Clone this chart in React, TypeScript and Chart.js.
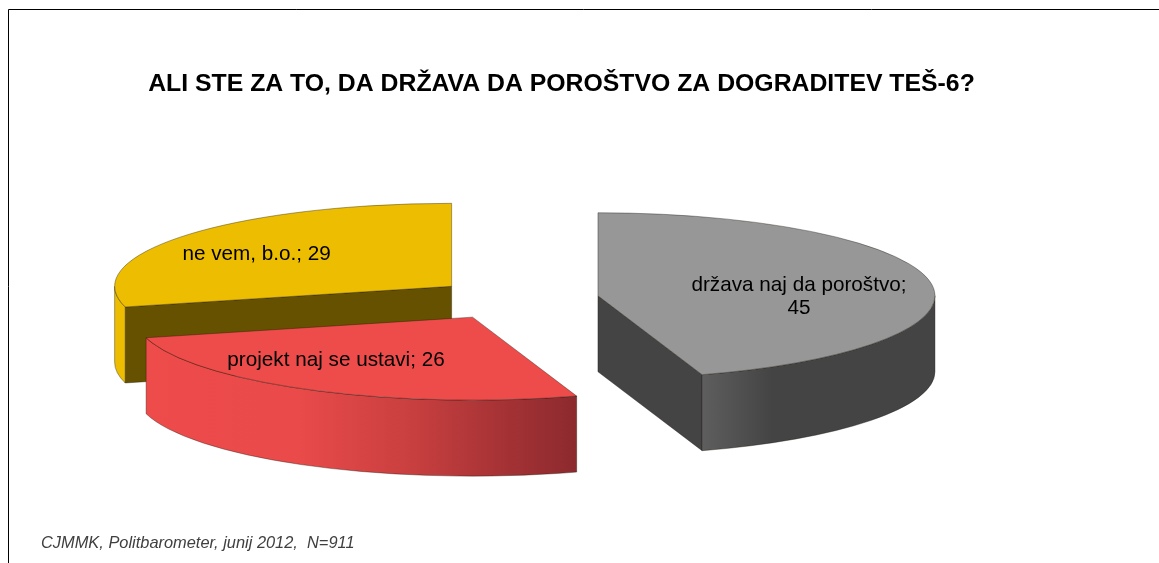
import React, { useEffect, useRef } from "react";
import { Chart, registerables } from "chart.js";

Chart.register(...registerables);

const categories = ["država naj da poroštvo", "projekt naj se ustavi", "ne vem, b.o."];
const values = [45, 26, 29];
const topColors = ["#979797", "#EE4B4B", "#ECBD00"];
const cutColors = ["#444444", "#EE4B4B", "#665100"];
const wallStops: [number, string][][] = [
  [[0, "#5E5E5E"], [0.3, "#444444"], [1, "#444444"]],
  [[0, "#EE4B4B"], [0.35, "#EA4A4A"], [0.62, "#C83F3F"], [0.85, "#A23134"], [1, "#8C2A2E"]],
  [[0, "#ECBD00"], [1, "#ECBD00"]],
];
const labelLines = [["država naj da poroštvo;", "45"], ["projekt naj se ustavi; 26"], ["ne vem, b.o.; 29"]];
const labelShift = [[201, 1], [-136.5, 43], [-195, -32]];
const sliceNudge = [0, -2, 3];
const titleText = "ALI STE ZA TO, DA DRŽAVA DA POROŠTVO ZA DOGRADITEV TEŠ-6?";
const sourceText = "CJMMK, Politbarometer, junij 2012,  N=911";

const RADIUS = 337;
const SQUASH = 83 / 337;
const DEPTH = 76;
const EXPLODE = 84;
const CENTER_X = 515;
const CENTER_Y = 299;
const FONT = '"Liberation Sans", Arial, sans-serif';
const EDGE = "rgba(30,20,10,0.5)";

const pie3d = {
  id: "pie3d",
  beforeDraw(chart: any) {
    const { ctx, width } = chart;
    ctx.save();
    ctx.strokeStyle = "#000";
    ctx.lineWidth = 1;
    ctx.beginPath();
    ctx.moveTo(8.5, 563);
    ctx.lineTo(8.5, 9.5);
    ctx.lineTo(width, 9.5);
    ctx.stroke();
    ctx.restore();
  },
  beforeDatasetDraw(chart: any, args: any) {
    const { ctx } = chart;
    const arcs: any[] = args.meta.data;
    const items = arcs.map((el, index) => {
      const mid = (el.startAngle + el.endAngle) / 2;
      return {
        el,
        index,
        ax: CENTER_X + Math.cos(mid) * EXPLODE + sliceNudge[index],
        ay: CENTER_Y + Math.sin(mid) * EXPLODE * SQUASH,
        mid,
      };
    });
    items.sort((a, b) => a.ay - b.ay);

    for (const it of items) {
      const { el, index, ax, ay } = it;
      const R = el.outerRadius;
      const Ry = R * SQUASH;
      const px = (a: number) => ax + Math.cos(a) * R;
      const py = (a: number) => ay + Math.sin(a) * Ry;
      const face = (a: number) => {
        ctx.beginPath();
        ctx.moveTo(ax, ay);
        ctx.lineTo(px(a), py(a));
        ctx.lineTo(px(a), py(a) + DEPTH);
        ctx.lineTo(ax, ay + DEPTH);
        ctx.closePath();
        ctx.fillStyle = cutColors[index];
        ctx.fill();
        ctx.strokeStyle = EDGE;
        ctx.lineWidth = 0.75;
        ctx.stroke();
      };
      ctx.save();
      if (Math.cos(el.endAngle) > 1e-6) face(el.endAngle);
      if (-Math.cos(el.startAngle) > 1e-6) face(el.startAngle);

      // the outer wall: the part of the rim that faces the viewer
      const a0 = Math.max(el.startAngle, 0);
      const a1 = Math.min(el.endAngle, Math.PI);
      if (a1 > a0) {
        const left = Math.min(px(a0), px(a1));
        const right = a0 <= 0 ? px(0) : Math.max(px(a0), px(a1));
        const leftEdge = a1 >= Math.PI ? px(Math.PI) : left;
        const g = ctx.createLinearGradient(leftEdge, 0, right, 0);
        wallStops[index].forEach(([o, c]) => g.addColorStop(o, c));
        ctx.beginPath();
        ctx.ellipse(ax, ay, R, Ry, 0, a0, a1, false);
        ctx.lineTo(px(a1), py(a1) + DEPTH);
        ctx.ellipse(ax, ay + DEPTH, R, Ry, 0, a1, a0, true);
        ctx.closePath();
        ctx.fillStyle = g;
        ctx.fill();
        ctx.strokeStyle = EDGE;
        ctx.lineWidth = 0.75;
        ctx.stroke();
      }
      ctx.restore();

      // the top of the slice: the library's own arc, squashed by the canvas transform
      ctx.save();
      ctx.translate(ax, ay);
      ctx.scale(1, SQUASH);
      ctx.translate(-el.x, -el.y);
      el.draw(ctx);
      ctx.restore();

      ctx.save();
      ctx.beginPath();
      ctx.moveTo(ax, ay);
      ctx.ellipse(ax, ay, R, Ry, 0, el.startAngle, el.endAngle, false);
      ctx.closePath();
      ctx.strokeStyle = EDGE;
      ctx.lineWidth = 0.75;
      ctx.stroke();
      ctx.restore();
    }

    ctx.save();
    ctx.fillStyle = "#000";
    ctx.font = `20.7px ${FONT}`;
    ctx.textAlign = "center";
    ctx.textBaseline = "middle";
    for (const it of items) {
      const lines = labelLines[it.index];
      const [dx, dy] = labelShift[it.index];
      lines.forEach((line, i) => {
        const y = it.ay + dy + (i - (lines.length - 1) / 2) * 23;
        ctx.fillText(line, it.ax + dx, y);
      });
    }
    ctx.restore();
    return false;
  },
  afterDraw(chart: any) {
    const { ctx } = chart;
    ctx.save();
    ctx.fillStyle = "#404040";
    ctx.font = `italic 16.4px ${FONT}`;
    ctx.textAlign = "left";
    ctx.textBaseline = "middle";
    ctx.fillText(sourceText, 41, 543);
    ctx.restore();
  },
};

export default function App() {
  const ref = useRef<HTMLCanvasElement>(null);
  useEffect(() => {
    const chart = new Chart(ref.current!, {
      type: "pie",
      data: {
        labels: categories,
        datasets: [
          {
            data: values,
            backgroundColor: topColors,
            borderWidth: 0,
            radius: RADIUS,
            clip: false,
          } as any,
        ],
      },
      options: {
        responsive: false,
        animation: false,
        devicePixelRatio: 1,
        rotation: 0,
        layout: { padding: { right: 36 } },
        plugins: {
          legend: { display: false },
          tooltip: { enabled: false },
          title: {
            display: true,
            text: titleText,
            color: "#000",
            font: { family: FONT, size: 24.8, weight: "bold" },
            padding: { top: 69, bottom: 10 },
          },
        },
      } as any,
      plugins: [pie3d as any],
    });
    return () => chart.destroy();
  }, []);
  return (
    <div style={{ position: "fixed", left: 0, top: 0, width: 1159, height: 563, background: "#fff" }}>
      <canvas ref={ref} width={1159} height={563} style={{ display: "block" }} />
    </div>
  );
}
